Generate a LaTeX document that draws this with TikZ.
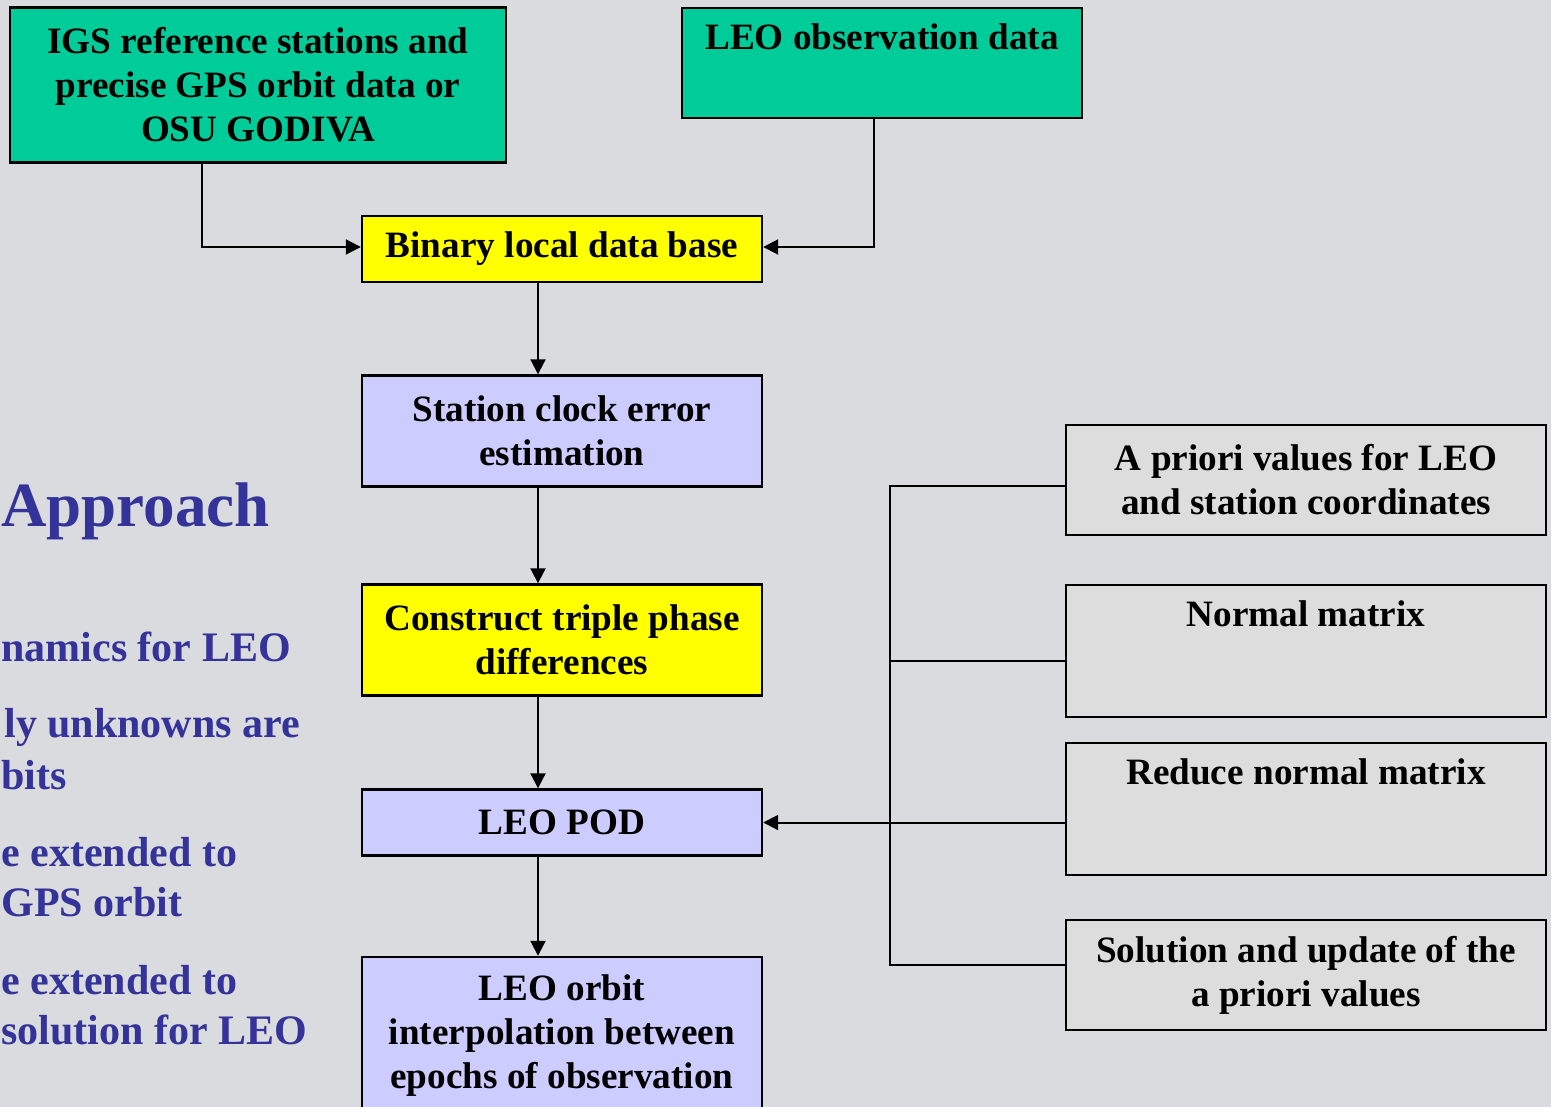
\documentclass[tikz,border=0pt]{standalone}
\usepackage{fontspec}
\setmainfont{Liberation Serif}
\usetikzlibrary{arrows.meta, positioning}
\definecolor{igsgreen}{HTML}{00CC99}
\definecolor{dbyellow}{HTML}{FFFF00}
\definecolor{steplav}{HTML}{CCCCFF}
\definecolor{matgray}{HTML}{DDDDDD}
\definecolor{marble}{HTML}{DADBDE}
\definecolor{slideblue}{HTML}{333399}

\begin{document}
\begin{tikzpicture}[x=0.5pt,y=-0.5pt,>={Triangle[length=7.5pt,width=7.5pt]},
        every node/.style={font=\bfseries\fontsize{18.6}{22}\selectfont},
        box/.style={draw=black,line width=1.2pt,align=center,inner sep=0pt,minimum width=200pt},
        source/.style={box,fill=igsgreen},
        yellowbox/.style={box,fill=dbyellow,minimum height=33pt},
        lavbox/.style={box,fill=steplav},
        graybox/.style={box,fill=matgray,minimum width=240pt},
        flow/.style={->,line width=1pt},
        bullet/.style={anchor=base west,inner sep=0pt,text=slideblue,font=\bfseries\fontsize{21}{25}\selectfont}]

        \useasboundingbox (0,0) rectangle (1551,1107);
        \clip (0,0) rectangle (1551,1107);
        \fill[marble] (0,0) rectangle (1551,1107);

        % slide text on the left
        \node[bullet,font=\bfseries\fontsize{31.5}{36}\selectfont] (title) at (1,526) {Approach};
        \node[bullet] (line_a) at (1,661) {namics for LEO};
        \node[bullet] (line_b) at (4,737) {ly unknowns are};
        \node[bullet] (line_c) at (1,789) {bits};
        \node[bullet] (line_d) at (1,866) {e extended to};
        \node[bullet] (line_e) at (1,916) {GPS orbit};
        \node[bullet] (line_f) at (1,994) {e extended to};
        \node[bullet] (line_g) at (1,1044) {solution for LEO};

        % flow chart
        \node[source,minimum width=248pt,minimum height=77.5pt] (igs) at (258,85)
            {IGS reference stations and\\precise GPS orbit data or\\OSU GODIVA};
        \node[source,minimum height=55pt] (leo_obs) at (882,63) {LEO observation data\\[-2pt]\strut};
        \node[yellowbox] (binary_db) at (562,249) {Binary local data base};
        \node[lavbox,minimum height=55.5pt] (clock) at (562,431) {Station clock error\\estimation};
        \node[yellowbox,minimum height=55.5pt] (triple) at (562,640) {Construct triple phase\\differences};
        \node[lavbox,minimum height=33pt] (pod) at (562,822.5) {LEO POD};
        \node[lavbox,minimum height=79pt] (interp) at (562,1036)
            {LEO orbit\\interpolation between\\epochs of observation};

        \node[graybox,minimum height=55pt] (apriori) at (1306,480) {A priori values for LEO\\and station coordinates};
        \node[graybox,minimum height=66pt] (normal) at (1306,651) {Normal matrix\\[9pt]\strut};
        \node[graybox,minimum height=66pt] (reduce) at (1306,809) {Reduce normal matrix\\[9pt]\strut};
        \node[graybox,minimum height=55pt] (solution) at (1306,975) {Solution and update of the\\a priori values};

        \coordinate (spine) at (538,0);
        \coordinate (bus) at (890,0);

        \draw[flow] ([xshift=-28pt]igs.south) |- ([yshift=1pt]binary_db.west);
        \draw[flow] ([xshift=-4pt]leo_obs.south) |- ([yshift=1pt]binary_db.east);
        \draw[flow] (binary_db.south -| spine) -- (clock.north -| spine);
        \draw[flow] (clock.south -| spine) -- (triple.north -| spine);
        \draw[flow] (triple.south -| spine) -- (pod.north -| spine);
        \draw[flow] (pod.south -| spine) -- (interp.north -| spine);

        \draw[line width=1pt] ([yshift=-3pt]apriori.west) -| ([yshift=5pt]solution.west -| bus)
            -- ([yshift=5pt]solution.west);
        \draw[line width=1pt] ([yshift=-5pt]normal.west) -- ([yshift=-5pt]normal.west -| bus);
        \draw[flow] (reduce.west |- pod.east) -- (pod.east);
    \end{tikzpicture}
\end{document}
